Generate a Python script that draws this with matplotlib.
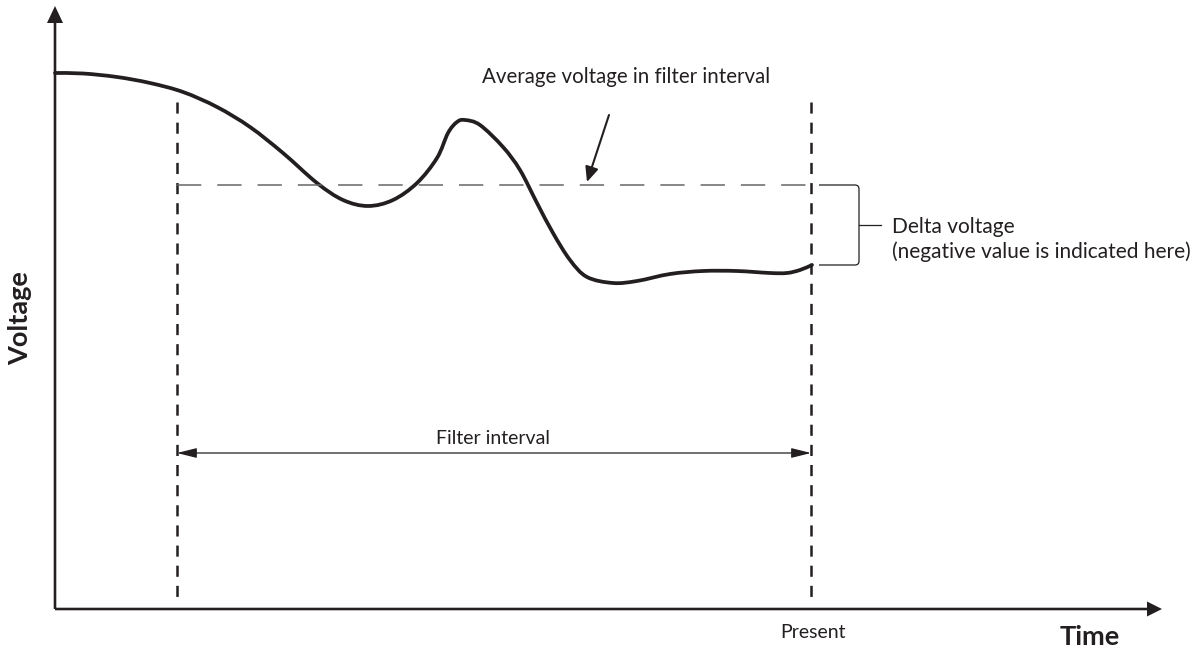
import matplotlib
matplotlib.use("Agg")
import matplotlib.pyplot as plt
from matplotlib.path import Path
from matplotlib.patches import PathPatch

plt.rcParams['lines.scale_dashes'] = False
plt.rcParams['font.family'] = ['Lato', 'DejaVu Sans']

# ---- data (time / voltage in drawing units) ----
time = [0, 28, 62, 95, 128, 162, 195, 228, 262, 288, 313, 338, 362, 382, 393, 402,
        410, 425, 448, 465, 482, 498, 515, 532, 558, 582, 615, 648, 682, 715, 732, 745, 757]
voltage = [536, 535.5, 532, 526, 517, 502, 482, 456, 426, 409, 403, 409, 426, 451, 476, 487,
           489, 484, 462, 439, 406, 376, 349, 332, 326, 328, 335, 338, 338, 336, 336, 339, 344]

filter_start = 122
present = 756
average_level = 424
axis_time_end = 1107
axis_voltage_end = 603
dashed_top = 507

text_color = '#231f20'

fig = plt.figure(figsize=(12, 6.5), dpi=100)
ax = fig.add_axes([0, 0, 1, 1])
ax.set_xlim(-55, 1145)
ax.set_ylim(-41, 609)
ax.axis('off')

# axes with arrows
ax.arrow(0, 0, axis_time_end, 0, width=2.6, head_width=15, head_length=15,
         length_includes_head=True, fc=text_color, ec=text_color, lw=0)
ax.arrow(0, 0, 0, axis_voltage_end, width=2.6, head_width=16, head_length=17,
         length_includes_head=True, fc=text_color, ec=text_color, lw=0)

# vertical dashed interval lines (pattern starts at the top)
for xv in (filter_start, present):
    ax.plot([xv, xv], [dashed_top, 4], color=text_color, lw=1.8,
            dashes=(8, 6.5), solid_capstyle='butt', dash_capstyle='butt')

# average dashed line
ax.plot([filter_start, present], [average_level, average_level], color='#666666',
        lw=1.1, dashes=(17.5, 11.5), dash_capstyle='butt')

# voltage curve: smooth Catmull-Rom path through the read points
pts = list(zip(time, voltage))
n = len(pts)
verts = [pts[0]]
codes = [Path.MOVETO]
for i in range(n - 1):
    p0 = pts[max(i - 1, 0)]
    p1 = pts[i]
    p2 = pts[i + 1]
    p3 = pts[min(i + 2, n - 1)]
    c1 = (p1[0] + (p2[0] - p0[0]) / 6, p1[1] + (p2[1] - p0[1]) / 6)
    c2 = (p2[0] - (p3[0] - p1[0]) / 6, p2[1] - (p3[1] - p1[1]) / 6)
    verts += [c1, c2, p2]
    codes += [Path.CURVE4, Path.CURVE4, Path.CURVE4]
ax.add_patch(PathPatch(Path(verts, codes), fill=False, ec=text_color, lw=2.7,
                       joinstyle='round', capstyle='round'))

# filter interval arrow
ax.annotate('', xy=(filter_start, 156), xytext=(present, 156),
            arrowprops=dict(arrowstyle='<|-|>,head_length=1.2,head_width=0.3',
                            mutation_scale=10, lw=0.9, color=text_color,
                            shrinkA=0, shrinkB=0))
ax.text((filter_start + present) / 2 - 1, 171, 'Filter interval', ha='center',
        va='center', fontsize=14, color=text_color)

# average voltage arrow
ax.annotate('', xy=(532, 427), xytext=(554, 494),
            arrowprops=dict(arrowstyle='-|>,head_length=0.9,head_width=0.4',
                            mutation_scale=10, lw=1.5, color=text_color,
                            shrinkA=0, shrinkB=0))
ax.text(427, 526, 'Average voltage in filter interval', ha='left', va='baseline',
        fontsize=14.8, color=text_color)

# bracket for delta voltage
end_v = voltage[-1]
bx0, bx1, r = 764, 804, 4
bverts = [(bx0, average_level), (bx1 - r, average_level), (bx1, average_level),
          (bx1, average_level - r), (bx1, end_v + r), (bx1, end_v), (bx1 - r, end_v),
          (bx0, end_v)]
bcodes = [Path.MOVETO, Path.LINETO, Path.CURVE3, Path.CURVE3, Path.LINETO,
          Path.CURVE3, Path.CURVE3, Path.LINETO]
ax.add_patch(PathPatch(Path(bverts, bcodes), fill=False, ec=text_color, lw=0.9))
mid_v = (average_level + end_v) / 2
ax.plot([bx1, 826], [mid_v, mid_v], color=text_color, lw=0.9)
ax.text(837, 382, 'Delta voltage', ha='left', va='center', fontsize=15, color=text_color)
ax.text(837, 357, '(negative value is indicated here)', ha='left', va='center',
        fontsize=15, color=text_color)

# axis labels
ax.text(present + 2, -24, 'Present', ha='center', va='center', fontsize=14, color=text_color)
ax.text(1035, -28, 'Time', ha='center', va='center', fontsize=19.5, fontweight='bold',
        color=text_color)
ax.text(-35, 291, 'Voltage', ha='center', va='center', fontsize=19.5, fontweight='bold',
        rotation=90, color=text_color)

fig.savefig('out.png', dpi=100)
